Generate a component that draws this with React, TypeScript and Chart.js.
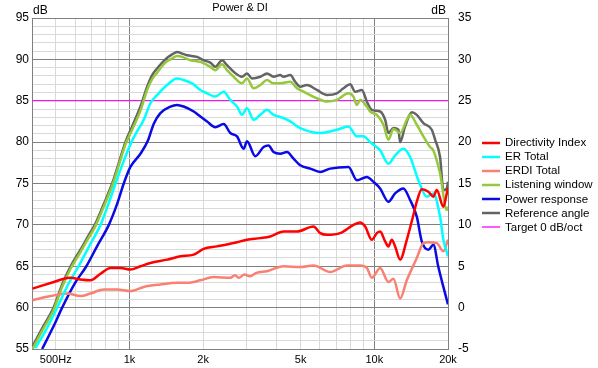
import React, { useEffect, useRef } from "react";
import { Chart, registerables } from "chart.js";

Chart.register(...registerables);

const FONT = "'Liberation Sans', Arial, sans-serif";

const chartTitle = "Power & DI";
const seriesLabels = [
  "Directivity Index",
  "ER Total",
  "ERDI Total",
  "Listening window",
  "Power response",
  "Reference angle",
  "Target 0 dB/oct",
];
const seriesColors = ["#ff0000", "#00ffff", "#fa8072", "#96c83c", "#0a0ae6", "#646464", "#ff00ff"];

const xTickValues = [500, 600, 700, 800, 900, 1000, 2000, 3000, 4000, 5000, 6000, 7000, 8000, 9000, 10000, 20000];
const xTickLabels: Record<number, string> = { 500: "500Hz", 1000: "1k", 2000: "2k", 5000: "5k", 10000: "10k", 20000: "20k" };

// Directivity Index (right axis, dB)
const diFreq = [402, 491, 540, 575, 631, 693, 762, 837, 919, 1009, 1109, 1218, 1425, 1615, 1830, 2009, 2279, 2664, 3021, 3423, 3760, 4260, 4832, 5648, 6015, 6404, 7255, 8221, 8755, 9176, 9772, 10242, 10565, 11073, 11422, 11792, 12163, 12748, 13575, 14444, 14913, 15630, 16630, 17429, 17995, 19148, 19770, 20000];
const diDb = [2.3, 3.1, 3.5, 3.6, 3.4, 3.3, 4.1, 4.8, 4.8, 4.6, 5.0, 5.4, 5.8, 6.2, 6.4, 7.1, 7.4, 7.8, 8.2, 8.4, 8.6, 9.2, 9.2, 9.8, 9.0, 8.8, 9.0, 10.0, 10.3, 9.8, 8.2, 9.0, 9.2, 8.0, 7.4, 8.2, 7.4, 5.8, 8.2, 11.2, 12.8, 14.3, 14.0, 13.4, 14.2, 12.2, 13.8, 14.5];

// ER Total (left axis, dB)
const erFreq = [413, 460, 507, 560, 620, 690, 762, 820, 877, 950, 1019, 1070, 1144, 1218, 1317, 1425, 1565, 1665, 1802, 1948, 2075, 2243, 2425, 2582, 2750, 2882, 3021, 3214, 3423, 3645, 3878, 4260, 4537, 4984, 6015, 7034, 7843, 8488, 9031, 9618, 10565, 11422, 12163, 13149, 14003, 15139, 16382, 17429, 18562, 19148, 20000];
const erDb = [55.1, 57.5, 60.0, 62.7, 65.0, 67.6, 70.0, 72.5, 75.0, 77.8, 80.0, 81.2, 82.7, 84.7, 85.9, 86.9, 87.7, 87.5, 87.1, 86.3, 85.9, 85.5, 86.1, 85.1, 84.3, 83.3, 84.1, 82.7, 83.3, 83.9, 83.3, 82.9, 82.5, 81.7, 81.1, 81.5, 81.9, 80.7, 80.7, 80.0, 79.0, 77.4, 78.4, 79.2, 78.2, 75.4, 73.4, 73.8, 71.0, 68.2, 66.2];

// ERDI Total (right axis, dB)
const erdiFreq = [402, 476, 557, 631, 693, 786, 891, 1009, 1144, 1338, 1565, 1720, 1948, 2207, 2582, 2700, 2800, 2950, 3100, 3300, 3645, 4260, 4984, 5648, 6606, 7727, 8755, 9324, 9772, 10565, 11422, 11971, 12748, 13575, 14913, 15866, 16630, 17995, 19148, 20000];
const erdiDb = [0.9, 1.4, 1.7, 1.4, 1.7, 2.2, 2.2, 2.0, 2.5, 2.8, 3.0, 3.0, 3.3, 3.7, 3.6, 3.9, 3.6, 4.0, 3.8, 4.2, 4.4, 5.0, 4.9, 5.1, 4.3, 5.1, 5.1, 4.8, 3.6, 4.8, 3.1, 3.5, 1.1, 3.3, 6.0, 7.8, 7.9, 7.8, 6.8, 8.2];

// Listening window (left axis, dB)
const lwFreq = [402, 440, 490, 531, 575, 631, 680, 722, 780, 850, 905, 963, 1026, 1109, 1181, 1238, 1297, 1402, 1493, 1565, 1641, 1774, 1948, 2140, 2243, 2389, 2503, 2664, 2882, 3021, 3214, 3423, 3645, 3878, 4130, 4537, 4832, 5141, 5831, 6404, 7034, 7843, 8221, 8488, 8755, 9324, 9618, 10242, 10898, 11422, 11971, 12748, 13575, 14003, 14913, 15866, 16897, 17429, 18562, 19770, 20000];
const lwDb = [55.0, 57.2, 59.7, 62.5, 64.7, 66.7, 68.4, 69.7, 72.0, 74.7, 77.2, 79.7, 81.5, 83.8, 86.3, 87.6, 88.4, 89.6, 90.1, 90.4, 90.3, 89.9, 89.7, 89.1, 88.7, 89.4, 88.7, 87.9, 87.1, 87.7, 86.5, 86.9, 87.5, 87.1, 87.1, 87.3, 86.5, 86.1, 85.3, 84.9, 85.1, 85.9, 85.5, 84.5, 85.1, 84.3, 83.7, 83.3, 82.1, 80.3, 81.6, 81.1, 82.7, 83.3, 82.1, 80.7, 79.4, 79.0, 76.2, 71.8, 72.2];

// Power response (left axis, dB)
const powerFreq = [440, 491, 531, 600, 667, 740, 824, 890, 948, 1009, 1109, 1190, 1256, 1338, 1470, 1565, 1665, 1830, 1948, 2075, 2243, 2425, 2582, 2750, 2926, 3021, 3266, 3530, 3700, 3878, 4130, 4399, 4680, 4984, 5475, 6015, 6606, 7843, 8488, 9324, 9920, 10565, 11422, 12163, 13149, 14003, 14913, 15630, 16630, 17429, 18268, 19148, 20000];
const powerDb = [55.0, 57.8, 60.0, 63.0, 65.0, 67.5, 70.0, 72.5, 75.0, 77.0, 78.6, 80.2, 82.2, 83.5, 84.3, 84.5, 84.3, 83.7, 83.1, 82.5, 81.8, 82.2, 81.1, 80.7, 79.2, 80.1, 78.3, 79.4, 79.6, 78.8, 78.6, 78.8, 78.0, 77.2, 76.8, 76.4, 76.8, 77.0, 75.4, 75.8, 75.2, 74.4, 72.8, 73.8, 74.4, 73.0, 71.0, 68.0, 67.0, 67.6, 64.9, 62.5, 60.4];

// Reference angle (left axis, dB)
const refFreq = [402, 440, 490, 531, 575, 631, 680, 722, 780, 850, 905, 963, 1026, 1109, 1181, 1238, 1297, 1402, 1493, 1565, 1641, 1720, 1889, 2004, 2140, 2243, 2389, 2503, 2664, 2882, 3021, 3166, 3423, 3645, 3878, 4130, 4260, 4537, 4755, 4984, 5308, 5831, 6404, 7034, 7484, 7970, 8353, 8896, 9324, 9772, 10565, 11073, 11422, 11971, 12546, 12748, 13360, 14228, 14913, 15866, 17169, 17710, 18562, 19148, 19770, 20000];
const refDb = [55.3, 57.5, 60.0, 62.8, 65.0, 67.0, 68.7, 70.0, 72.3, 75.0, 77.5, 80.0, 81.9, 84.3, 86.7, 88.1, 88.9, 90.0, 90.6, 90.9, 90.7, 90.5, 90.3, 89.9, 89.6, 89.1, 89.9, 89.3, 88.5, 87.9, 88.3, 87.7, 87.9, 88.3, 87.9, 88.1, 87.9, 88.1, 87.3, 86.7, 86.9, 86.3, 85.7, 85.9, 86.5, 87.0, 86.1, 86.3, 84.9, 83.9, 83.7, 82.7, 81.1, 81.7, 81.5, 80.0, 81.9, 83.6, 83.3, 82.3, 81.5, 80.3, 78.2, 74.2, 74.4, 75.2];

// Target 0 dB/oct (left axis, dB)
const targetFreq = [400, 20000];
const targetDb = [85, 85];

const pts = (f: number[], v: number[]) => f.map((x, i) => ({ x, y: v[i] }));

const overlay = {
  id: "overlay",
  afterDraw(chart: any) {
    const ctx = chart.ctx;
    const area = chart.chartArea;
    ctx.save();
    ctx.fillStyle = "#000";
    ctx.font = `11px ${FONT}`;
    ctx.textBaseline = "middle";
    ctx.textAlign = "center";
    ctx.fillText(chartTitle, (area.left + area.right) / 2, 8);
    ctx.font = `12px ${FONT}`;
    ctx.textAlign = "left";
    ctx.fillText("dB", area.left + 1, 11);
    ctx.textAlign = "right";
    ctx.fillText("dB", area.right - 2, 11);
    // legend
    ctx.textAlign = "left";
    ctx.font = `11.5px ${FONT}`;
    chart.data.datasets.forEach((ds: any, i: number) => {
      const y = 142.5 + i * 14.1;
      ctx.strokeStyle = ds.borderColor;
      ctx.lineWidth = ds.borderWidth < 2 ? 1.3 : ds.borderWidth;
      ctx.beginPath();
      ctx.moveTo(482, Math.round(y));
      ctx.lineTo(500, Math.round(y));
      ctx.stroke();
      ctx.fillStyle = "#000";
      ctx.fillText(ds.label, 505, y + 0.5);
    });
    ctx.restore();
  },
};

export default function App() {
  const ref = useRef<HTMLCanvasElement>(null);
  useEffect(() => {
    const series = [
      { f: diFreq, v: diDb, axis: "y1" },
      { f: erFreq, v: erDb, axis: "y" },
      { f: erdiFreq, v: erdiDb, axis: "y1" },
      { f: lwFreq, v: lwDb, axis: "y" },
      { f: powerFreq, v: powerDb, axis: "y" },
      { f: refFreq, v: refDb, axis: "y" },
      { f: targetFreq, v: targetDb, axis: "y" },
    ];
    const datasets = series.map((s, i) => ({
      label: seriesLabels[i],
      data: pts(s.f, s.v),
      yAxisID: s.axis,
      borderColor: seriesColors[i],
      backgroundColor: seriesColors[i],
      borderWidth: i === 6 ? 1 : 2.5,
      pointRadius: 0,
      cubicInterpolationMode: "monotone" as const,
      fill: false,
    }));
    const chart = new Chart(ref.current!, {
      type: "line",
      data: { datasets },
      options: {
        responsive: false,
        animation: false,
        layout: { padding: { top: 18, right: 116, left: 0, bottom: 0 } },
        plugins: { legend: { display: false }, tooltip: { enabled: false }, title: { display: false } },
        scales: {
          x: {
            type: "logarithmic",
            min: 400,
            max: 20000,
            afterBuildTicks: (s: any) => {
              s.ticks = xTickValues.map((v) => ({ value: v }));
            },
            afterFit: (s: any) => {
              s.height = 19;
            },
            grid: {
              drawTicks: false,
              color: (c: any) => (c.tick && (c.tick.value === 1000 || c.tick.value === 10000) ? "#808080" : "#d9d9d9"),
            },
            border: { color: "#808080" },
            ticks: {
              autoSkip: false,
              maxRotation: 0,
              padding: 4,
              color: "#000",
              font: { family: FONT, size: 11 },
              callback: (v: any) => xTickLabels[Number(v)] ?? "",
            },
          },
          y: {
            type: "linear",
            position: "left",
            min: 55,
            max: 95,
            afterFit: (s: any) => {
              s.width = 32;
            },
            grid: {
              drawTicks: false,
              color: (c: any) => (c.tick && c.tick.value % 5 === 0 ? "#808080" : "#d9d9d9"),
            },
            border: { color: "#808080" },
            ticks: {
              stepSize: 1,
              autoSkip: false,
              padding: 3,
              color: "#000",
              font: { family: FONT, size: 12 },
              callback: (v: any) => (Number(v) % 5 === 0 ? String(v) : ""),
            },
          },
          y1: {
            type: "linear",
            position: "right",
            min: -5,
            max: 35,
            afterFit: (s: any) => {
              s.width = 34;
            },
            grid: { display: false, drawTicks: false },
            border: { color: "#808080" },
            ticks: {
              stepSize: 5,
              padding: 10,
              color: "#000",
              font: { family: FONT, size: 12 },
            },
          },
        },
      },
      plugins: [overlay],
    });
    return () => chart.destroy();
  }, []);
  return (
    <div style={{ position: "fixed", left: 0, top: 0, width: 598, height: 368, background: "#fff" }}>
      <canvas ref={ref} width={598} height={368} style={{ display: "block" }} />
    </div>
  );
}
